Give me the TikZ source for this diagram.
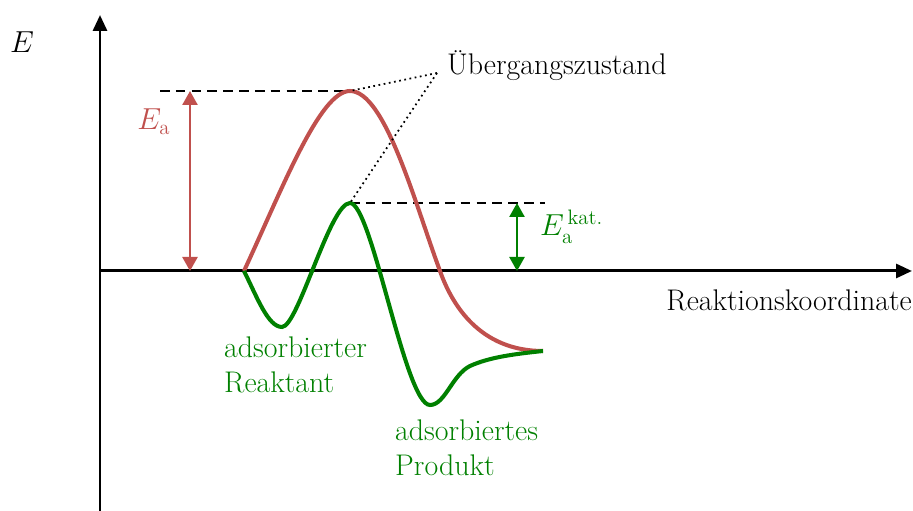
\documentclass[tikz,border=0pt]{standalone}
\usepackage{amsmath}
\usetikzlibrary{arrows.meta}
\definecolor{eared}{RGB}{192,80,77}
\definecolor{eagreen}{RGB}{0,128,0}

\begin{document}
\begin{tikzpicture}[
    lbl/.style={font=\fontsize{17}{19.5}\selectfont},
    axis/.style={line width=1.7pt,-{Triangle[length=0.32cm,width=0.28cm]}},
    curve/.style={line width=2.3pt},
    level/.style={line width=1.1pt,dash pattern=on 5.5pt off 3.5pt},
    gap/.style={line width=1.4pt,{Triangle[length=0.28cm,width=0.3cm]}-{Triangle[length=0.28cm,width=0.3cm]}}]
  \useasboundingbox (0,0) rectangle (18.26,10.22);

  \coordinate (origin) at (2.0,4.8);
  \coordinate (ybot) at (2.0,0);
  \coordinate (ytop) at (2.0,9.92);
  \coordinate (xend) at (18.24,4.8);
  \draw[axis] (ybot) -- (ytop);
  \draw[axis] (origin) -- (xend);
  \node[lbl] (elab) at (0.44,9.38) {\(E\)};
  \node[lbl,anchor=north east] (rklab) at (18.36,4.54) {Reaktionskoordinate};

  \coordinate (start) at (4.88,4.8);
  \coordinate (redtop) at (7.0,8.4);
  \coordinate (redmid) at (8.8,4.8);
  \coordinate (stop) at (10.86,3.2);
  \coordinate (grlow) at (5.64,3.68);
  \coordinate (grtop) at (7.0,6.16);
  \coordinate (grdeep) at (8.6,2.12);
  \coordinate (grknee) at (9.4,2.9);

  \draw[level] (3.2,8.4) -- (redtop);
  \draw[level] (grtop) -- (10.9,6.16);

  \draw[curve,eared] (start) .. controls (5.66,6.48) and (6.4,8.4) .. (redtop)
    .. controls (7.7,8.4) and (8.3,6.15) .. (redmid)
    .. controls (9.04,4.12) and (9.6,3.2) .. (stop);
  \draw[curve,eagreen] (start) .. controls (5.14,4.28) and (5.36,3.68) .. (grlow)
    .. controls (5.96,3.68) and (6.6,6.16) .. (grtop)
    .. controls (7.44,6.16) and (8.1,2.12) .. (grdeep)
    .. controls (8.9,2.12) and (9.04,2.72) .. (grknee)
    .. controls (9.8,3.08) and (10.3,3.14) .. (stop);

  \coordinate (eabot) at (3.8,4.8);
  \coordinate (eatop) at (3.8,8.4);
  \draw[gap,eared] (eabot) -- (eatop);
  \node[lbl,eared] (ealab) at (3.08,7.78) {\(E_{\text{a}}\)};

  \coordinate (kbot) at (10.34,4.8);
  \coordinate (ktop) at (10.34,6.16);
  \draw[gap,eagreen] (kbot) -- (ktop);
  \node[lbl,eagreen,anchor=west] (klab) at (10.68,5.68) {\(E_{\text{a}}^{\,\text{kat.}}\)};

  \node[lbl,anchor=west] (uelab) at (8.82,8.9) {Übergangszustand};
  \coordinate (uetip) at (8.74,8.76);
  \draw[line width=1pt,dotted] (uetip) -- (redtop);
  \draw[line width=1pt,dotted] (uetip) -- (grtop);

  \node[lbl,eagreen,anchor=north west,align=left] (reaklab) at (4.36,3.6) {adsorbierter\\Reaktant};
  \node[lbl,eagreen,anchor=north west,align=left] (prodlab) at (7.78,1.94) {adsorbiertes\\Produkt};
\end{tikzpicture}
\end{document}
